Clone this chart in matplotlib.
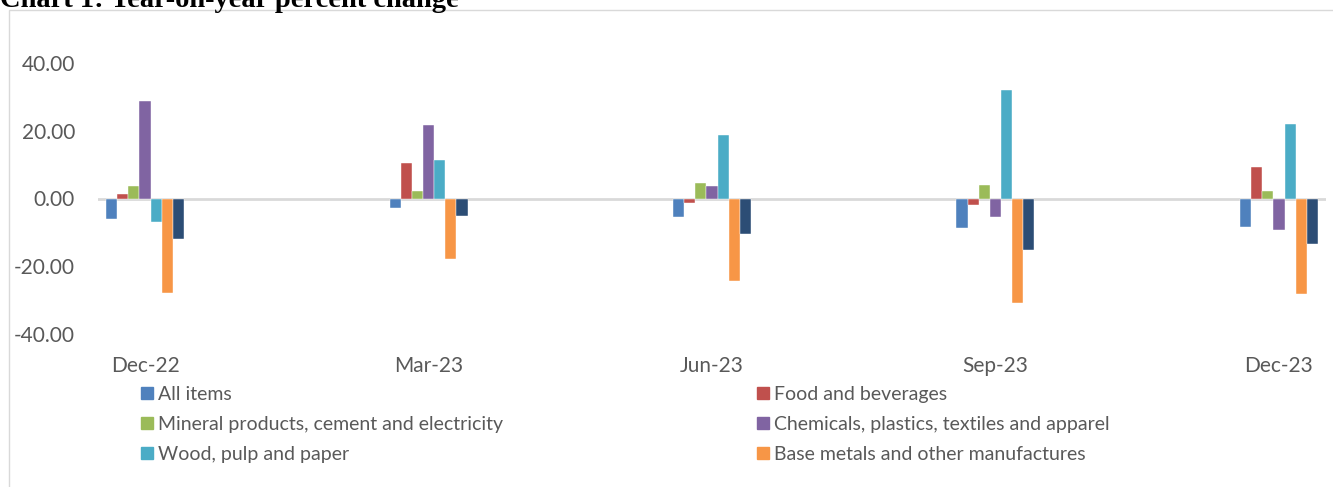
import numpy as np
import matplotlib
matplotlib.use("Agg")
import matplotlib.pyplot as plt
from matplotlib.patches import Rectangle, Patch

quarters = ["Dec-22", "Mar-23", "Jun-23", "Sep-23", "Dec-23"]

all_items = [-6.1, -2.9, -5.6, -8.7, -8.3]
food_bev = [1.2, 10.4, -1.2, -1.8, 9.2]
mineral = [3.8, 2.2, 4.5, 4.1, 2.1]
chemicals = [28.9, 21.7, 3.6, -5.6, -9.3]
wood = [-7.0, 11.3, 18.6, 32.0, 22.0]
base_metals = [-28.0, -17.8, -24.5, -30.9, -28.1]
other = [-11.9, -5.2, -10.4, -15.2, -13.3]  # 7th series, its legend entry is cut off

names = ["All items", "Food and beverages",
         "Mineral products, cement and electricity",
         "Chemicals, plastics, textiles and apparel",
         "Wood, pulp and paper", "Base metals and other manufactures", None]
series = [all_items, food_bev, mineral, chemicals, wood, base_metals, other]
colors = ["#4F81BD", "#C0504D", "#9BBB59", "#8064A2", "#4BACC6", "#F79646", "#2C4D75"]

plt.rcParams['font.family'] = ['Lato', 'DejaVu Sans']

fig = plt.figure(figsize=(13.33, 4.87), dpi=100)
ax = fig.add_axes([98/1333, 153/487, 1228/1333, 271/487])

x = np.arange(len(quarters))
w = 0.0393
for i, (vals, c) in enumerate(zip(series, colors)):
    ax.bar(x + (i - 3) * w, vals, w, color=c, edgecolor="white", linewidth=0.3, zorder=2)

ax.axhline(0, color="#D9D9D9", linewidth=2, zorder=1)
ax.set_xlim(-0.166, 4.166)
ax.set_ylim(-40, 40)
ax.set_yticks([-40, -20, 0, 20, 40])
ax.set_yticklabels(["%.2f" % v for v in [-40, -20, 0, 20, 40]])
ax.set_xticks(x)
ax.set_xticklabels(quarters)
ax.tick_params(axis="both", length=0, labelsize=15, labelcolor="#595959")
ax.tick_params(axis="x", pad=16)
ax.tick_params(axis="y", pad=16.5)
for s in ax.spines.values():
    s.set_visible(False)

# chart border
fig.patches.append(Rectangle((9/1333, -0.1), 1.2, 1 - 10/487 + 0.1, transform=fig.transFigure,
                             fill=False, edgecolor="#D9D9D9", linewidth=1))

fig.text(0.0, 480/487, "Chart 1: Year-on-year percent change", family="Liberation Serif",
         fontsize=20.5, fontweight="bold", va="baseline", ha="left")

left = [Patch(color=colors[i], label=names[i]) for i in (0, 2, 4)]
right = [Patch(color=colors[i], label=names[i]) for i in (1, 3, 5)]
for hs, xp in [(left, 141/1333), (right, 757/1333)]:
    fig.legend(handles=hs, loc="upper left", bbox_to_anchor=(xp, 1 - 386/487), frameon=False,
               fontsize=14, labelcolor="#595959", handlelength=0.62, handleheight=0.62,
               handletextpad=0.25, labelspacing=0.66, borderpad=0, borderaxespad=0)

fig.savefig("out.png", dpi=100)
